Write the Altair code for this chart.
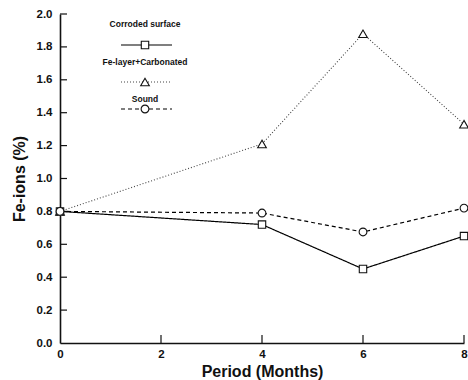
import altair as alt
import pandas as pd

months = [0, 4, 6, 8]
corroded = [0.80, 0.72, 0.45, 0.65]
fe_layer = [0.80, 1.21, 1.88, 1.33]
sound = [0.80, 0.79, 0.675, 0.82]

series_names = ["Corroded surface", "Fe-layer+Carbonated", "Sound"]
series_values = [corroded, fe_layer, sound]
series_shapes = ["square", "triangle-up", "circle"]
series_dash = [[1, 0], [1, 2], [4, 3]]
series_size = [55, 75, 60]
series_color = ["#000000", "#444444", "#000000"]

x_ticks = [2, 4, 6, 8]
y_ticks = [0.2, 0.4, 0.6, 0.8, 1.0, 1.2, 1.4, 1.6, 1.8, 2.0]
x_labels = [0, 2, 4, 6, 8]
y_labels = [0.0, 0.2, 0.4, 0.6, 0.8, 1.0, 1.2, 1.4, 1.6, 1.8, 2.0]

FONT = "Liberation Sans"

rows = []
for name, vals in zip(series_names, series_values):
    for m, v in zip(months, vals):
        rows.append({"series": name, "month": m, "fe": v})
df = pd.DataFrame(rows)

xs = alt.Scale(domain=[0, 8], nice=False, zero=False)
ys = alt.Scale(domain=[0, 2.0], nice=False)

x_axis = alt.Axis(values=x_labels, format="d", tickSize=0, labelPadding=5,
                  labelFont=FONT, labelFontWeight="bold", labelFontSize=11.5, labelColor="#111",
                  title="Period (Months)", titleFont=FONT, titleFontWeight="bold",
                  titleFontSize=16, titleColor="#111", titlePadding=4,
                  domainColor="#111", domainWidth=1.6, grid=False, labelFlush=False,
                  labelOverlap=False)
y_axis = alt.Axis(values=y_labels, format=".1f",
                  tickSize=0, labelPadding=8,
                  labelFont=FONT, labelFontWeight="bold", labelFontSize=11.5, labelColor="#111",
                  title="Fe-ions (%)", titleFont=FONT, titleFontWeight="bold",
                  titleFontSize=16, titleColor="#111", titlePadding=9,
                  domainColor="#111", domainWidth=1.6, grid=False, labelFlush=False,
                  labelOverlap=False, labelSeparation=0)


def X(field):
    return alt.X(field, scale=xs, axis=x_axis)


def Y(field):
    return alt.Y(field, scale=ys, axis=y_axis)


layers = []

# inward ticks
ytk = pd.DataFrame({"v": y_ticks})
layers.append(alt.Chart(ytk).mark_rule(color="#111", strokeWidth=1.2).encode(
    y=Y("v:Q"), x=alt.value(0), x2=alt.value(7)))
xtk = pd.DataFrame({"v": x_ticks})
layers.append(alt.Chart(xtk).mark_rule(color="#111", strokeWidth=1.2).encode(
    x=X("v:Q"), y=alt.value(329), y2=alt.value(321)))

for name, shape, dash, size, col in zip(series_names, series_shapes, series_dash, series_size, series_color):
    sub = df[df.series == name]
    layers.append(alt.Chart(sub).mark_line(color=col, strokeWidth=1.2 if dash != [1, 2] else 1.1,
                                           strokeDash=dash).encode(
        x=X("month:Q"), y=Y("fe:Q")))
    layers.append(alt.Chart(sub).mark_point(shape=shape, size=size, filled=True, fill="white",
                                            stroke="#111", strokeWidth=1.1, opacity=1).encode(
        x=X("month:Q"), y=Y("fe:Q")))

# custom legend (pixel layout inside plot area)
leg_text_y = [10, 48, 85]
leg_line_y = [31, 68, 95]
for i, (name, shape, dash, size, col) in enumerate(zip(series_names, series_shapes, series_dash, series_size, series_color)):
    one = pd.DataFrame({"series": [name]})
    layers.append(alt.Chart(one).mark_text(font=FONT, fontWeight="bold", fontSize=8.5,
                                           color="#111", align="center", baseline="middle").encode(
        text="series:N", x=alt.value(85), y=alt.value(leg_text_y[i])))
    layers.append(alt.Chart(one).mark_rule(color=col, strokeWidth=1.2, strokeDash=dash).encode(
        x=alt.value(61), x2=alt.value(112), y=alt.value(leg_line_y[i])))
    layers.append(alt.Chart(one).mark_point(shape=shape, size=size, filled=True, fill="white",
                                            stroke="#111", strokeWidth=1.1, opacity=1).encode(
        x=alt.value(85), y=alt.value(leg_line_y[i])))

chart = alt.layer(*layers).properties(
    width=404, height=329,
    padding={"left": 60, "top": 14, "right": 4, "bottom": 37},
    autosize=alt.AutoSizeParams(type="none"),
    background="white",
).configure_view(stroke=None).configure_axis(labelOverlap=False)

chart.save("out.html", embed_options={"renderer": "svg", "actions": False})
